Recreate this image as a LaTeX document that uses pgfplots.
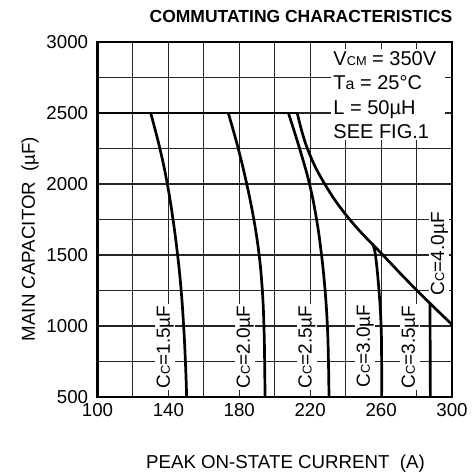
\documentclass[border=0pt]{standalone}
\usepackage{fontspec}
\setmainfont{Liberation Sans}
\usepackage{pgfplots}
\pgfplotsset{compat=1.18}
\newcommand{\sm}[1]{{\fontsize{12.8bp}{14bp}\selectfont #1}}
\begin{document}
\begin{tikzpicture}
\useasboundingbox (-97.5bp,-75bp) rectangle (377.5bp,397bp);
\begin{axis}[
  at={(0,0)}, anchor=south west,
  scale only axis, width=354.5bp, height=355bp,
  xmin=100, xmax=300, ymin=500, ymax=3000,
  xtick={100,120,...,300}, xticklabels={100,,140,,180,,220,,260,,300},
  ytick={500,750,...,3000}, yticklabels={500,,1000,,1500,,2000,,2500,,3000},
  grid=major, major grid style={line width=1.1bp, black!85},
  major tick length=0pt,
  axis line style={line width=2.7bp},
  ticklabel style={font=\fontsize{18.7bp}{22bp}\selectfont},
  /pgf/number format/assume math mode=true,
  xticklabel style={anchor=base, yshift=-19bp, inner sep=0pt},
  yticklabel style={anchor=east, xshift=-9.2bp, inner sep=0pt},
  cv/.style={line width=2.7bp, black, line join=round, no marks, smooth, tension=0.7},
]
% legend block
\fill[white] (axis cs:232,2310) rectangle (axis cs:296,2951);
\node[anchor=base west, inner sep=0pt, font=\fontsize{20bp}{22bp}\selectfont] at (axis cs:233,2838) {V\sm{CM} = 350V};
\node[anchor=base west, inner sep=0pt, font=\fontsize{20bp}{22bp}\selectfont] at (axis cs:233,2662) {T{\fontsize{16bp}{18bp}\selectfont a} = 25°C};
\node[anchor=base west, inner sep=0pt, font=\fontsize{20bp}{22bp}\selectfont] at (axis cs:233,2486) {L = 50µH};
\node[anchor=base west, inner sep=0pt, font=\fontsize{20bp}{22bp}\selectfont] at (axis cs:233,2322) {SEE FIG.1};
% curve labels
\tikzset{cl/.style={rotate=90, anchor=base west, fill=white, inner sep=1.5bp, font=\fontsize{19bp}{22bp}\selectfont}}
\node[cl] at (axis cs:140.8,548) {C\sm{C}=1.5µF};
\node[cl] at (axis cs:186.0,548) {C\sm{C}=2.0µF};
\node[cl] at (axis cs:220.8,548) {C\sm{C}=2.5µF};
\node[cl] at (axis cs:253.7,555) {C\sm{C}=3.0µF};
\node[cl] at (axis cs:279.0,548) {C\sm{C}=3.5µF};
\node[cl] at (axis cs:295.5,1205) {C\sm{C}=4.0µF};
% curves
\addplot[cv] coordinates {(100,2500) (212.7,2500)};
\addplot[cv] coordinates {(130,2500) (135.2,2250) (139.4,2000) (142.6,1750) (145.2,1500) (147.2,1250) (148.6,1000) (149.6,750) (150.3,500)};
\addplot[cv] coordinates {(173.8,2500) (179.4,2250) (184.2,2000) (188.2,1750) (191.2,1500) (193.0,1250) (193.9,1000) (194.3,750) (194.5,500)};
\addplot[cv] coordinates {(207.7,2500) (214.0,2250) (219.6,2000) (223.6,1750) (226.4,1500) (228.4,1250) (229.7,1000) (230.3,750) (230.6,500)};
\addplot[cv] coordinates {(212.7,2500) (218.4,2250) (228.2,2000) (242.3,1750) (261,1500) (280,1253) (300,1010)};
\addplot[cv] coordinates {(255,1580) (256.8,1500) (258.8,1250) (260,1000) (260.3,750) (260.3,500)};
\addplot[cv] coordinates {(287.6,1160) (287.7,800) (287.8,500)};
\end{axis}
\node[anchor=base, font=\bfseries\fontsize{17.5bp}{20bp}\selectfont] at (203.5bp,374bp) {COMMUTATING CHARACTERISTICS};
\node[anchor=base, font=\fontsize{18.7bp}{22bp}\selectfont] at (188bp,-71.5bp) {PEAK ON-STATE CURRENT\ \ (A)};
\node[anchor=base, rotate=90, font=\fontsize{18.7bp}{22bp}\selectfont] at (-62.5bp,158bp) {MAIN CAPACITOR\ \ (µF)};
\end{tikzpicture}
\end{document}
